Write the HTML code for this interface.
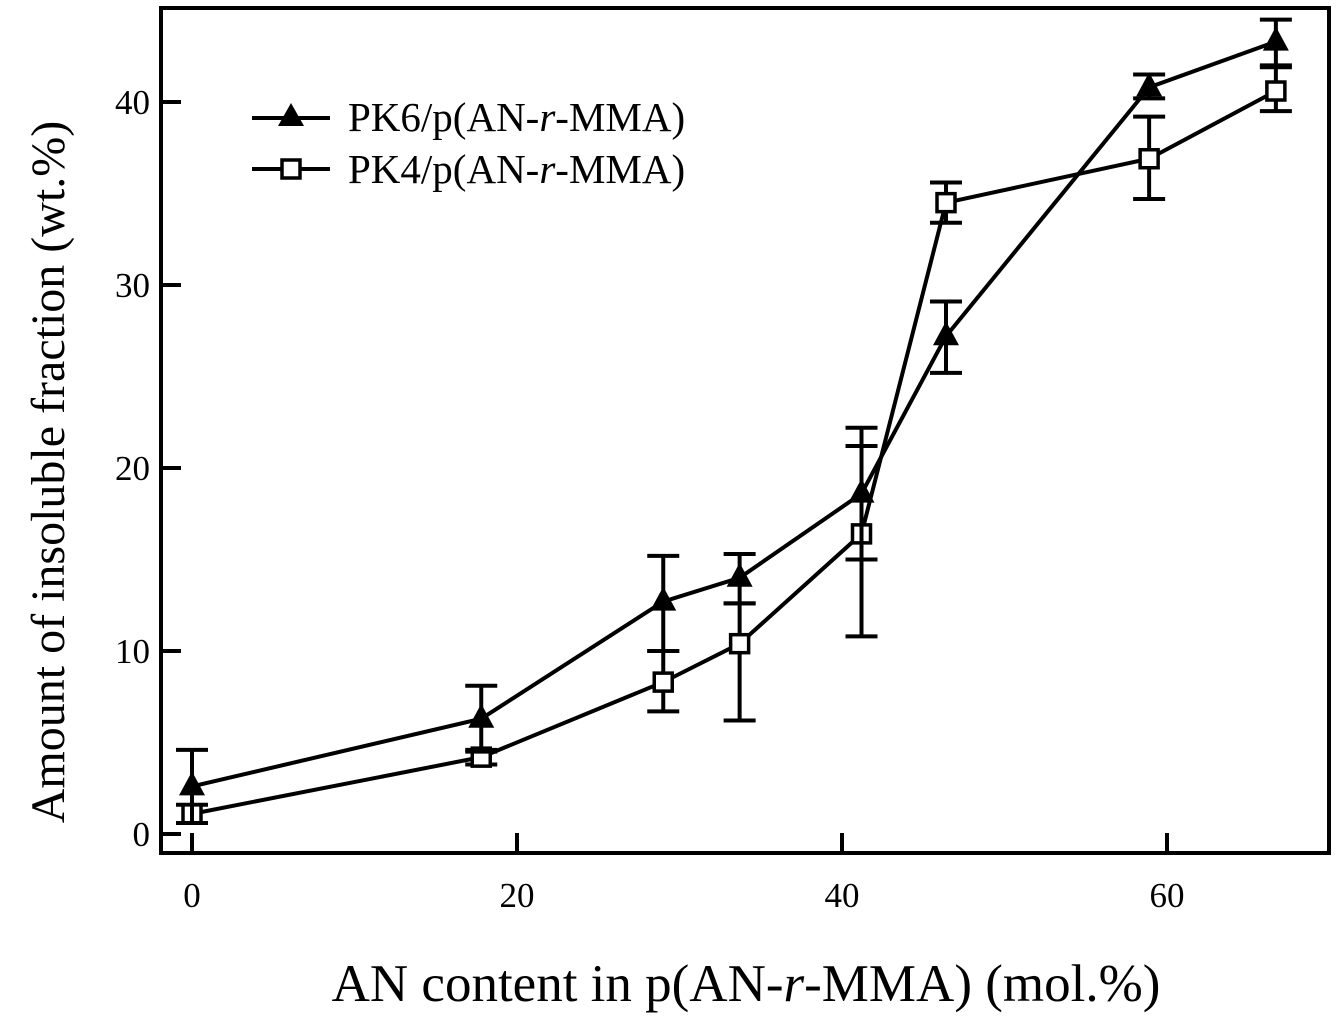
<!DOCTYPE html>
<html><head><meta charset="utf-8"><style>
html,body{margin:0;padding:0;background:#fff}
svg{display:block;font-family:"Liberation Serif",serif}
</style></head><body>
<svg id="chart" width="1339" height="1020" viewBox="0 0 1339 1020">
<g id="g"></g>
</svg>
<script>
const xs = [0, 17.8, 29.0, 33.7, 41.2, 46.4, 58.9, 66.7];
const pk6 = [2.6, 6.3, 12.7, 14.0, 18.6, 27.2, 40.8, 43.3];
const pk6Hi = [4.6, 8.1, 15.2, 15.3, 22.2, 29.1, 41.5, 44.5];
const pk6Lo = [0.6, 4.5, 10.0, 12.6, 15.0, 25.2, 40.2, 42.0];
const pk4 = [1.1, 4.2, 8.3, 10.4, 16.4, 34.5, 36.9, 40.6];
const pk4Hi = [1.6, 4.6, 10.0, 12.6, 21.2, 35.6, 39.2, 41.9];
const pk4Lo = [0.6, 3.8, 6.7, 6.2, 10.8, 33.4, 34.7, 39.5];
const xTicks = [0, 20, 40, 60];
const yTicks = [0, 10, 20, 30, 40];

const X = v => 192 + v * 16.25;
const Y = v => 834 - v * 18.3;
const NS = "http://www.w3.org/2000/svg";
const g = document.getElementById('g');
function mk(t, a, parent){const e=document.createElementNS(NS,t);for(const k in a)e.setAttribute(k,a[k]);(parent||g).appendChild(e);return e;}

const frame = mk('rect',{x:161,y:8,width:1168,height:845,fill:'none',stroke:'#000','stroke-width':4});



xTicks.forEach(t=>{
  const l = mk('line',{x1:X(t),x2:X(t),y1:853,y2:833,stroke:'#000','stroke-width':4});
  
  
  const tx = mk('text',{x:X(t),y:907,'font-size':35,'text-anchor':'middle'});
  tx.textContent = t;
  
  
});
yTicks.forEach(t=>{
  const l = mk('line',{x1:161,x2:181,y1:Y(t),y2:Y(t),stroke:'#000','stroke-width':4});
  
  
  const tx = mk('text',{x:150,y:Y(t)+12,'font-size':35,'text-anchor':'end'});
  tx.textContent = t;
  
  
});

function series(vals, hi, lo, kind, name){
  const grp = mk('g',{});
  
  
  xs.forEach((x,i)=>{
    const eb = mk('path',{d:`M${X(x)-16},${Y(hi[i])}H${X(x)+16}M${X(x)},${Y(hi[i])}V${Y(lo[i])}M${X(x)-16},${Y(lo[i])}H${X(x)+16}`,stroke:'#000','stroke-width':4,fill:'none'},grp);
    
    
  });
  const line = mk('polyline',{points:xs.map((x,i)=>X(x)+','+Y(vals[i])).join(' '),fill:'none',stroke:'#000','stroke-width':4},grp);
  
  
  xs.forEach((x,i)=>{
    const cx=X(x), cy=Y(vals[i]);
    let m;
    if(kind==='tri') m = mk('polygon',{points:`${cx},${cy-15} ${cx-13},${cy+9} ${cx+13},${cy+9}`,fill:'#000'},grp);
    else m = mk('rect',{x:cx-9,y:cy-9,width:18,height:18,fill:'#fff',stroke:'#000','stroke-width':3.5},grp);
    
    
  });
}
series(pk4, pk4Hi, pk4Lo, 'sq', 'series-pk4');
series(pk6, pk6Hi, pk6Lo, 'tri', 'series-pk6');

// legend
const lg = mk('g',{});


mk('line',{x1:252,x2:330,y1:118,y2:118,stroke:'#000','stroke-width':4},lg);
mk('polygon',{points:'291,103 278,126 304,126',fill:'#000'},lg);
mk('line',{x1:252,x2:330,y1:169,y2:169,stroke:'#000','stroke-width':4},lg);
mk('rect',{x:282,y:160,width:18,height:18,fill:'#fff',stroke:'#000','stroke-width':3.5},lg);
const t1 = mk('text',{x:348,y:131,'font-size':41},lg);
t1.innerHTML = 'PK6/p(AN-<tspan font-style="italic">r</tspan>-MMA)';


const t2 = mk('text',{x:348,y:183,'font-size':41},lg);
t2.innerHTML = 'PK4/p(AN-<tspan font-style="italic">r</tspan>-MMA)';



const xt = mk('text',{x:746,y:1001,'font-size':53,'text-anchor':'middle'});
xt.innerHTML = 'AN content in p(AN-<tspan font-style="italic">r</tspan>-MMA) (mol.%)';


const yt = mk('text',{x:0,y:0,'font-size':48,'text-anchor':'middle',transform:'translate(64,472) rotate(-90)'});
yt.textContent = 'Amount of insoluble fraction (wt.%)';


</script>
</body></html>
